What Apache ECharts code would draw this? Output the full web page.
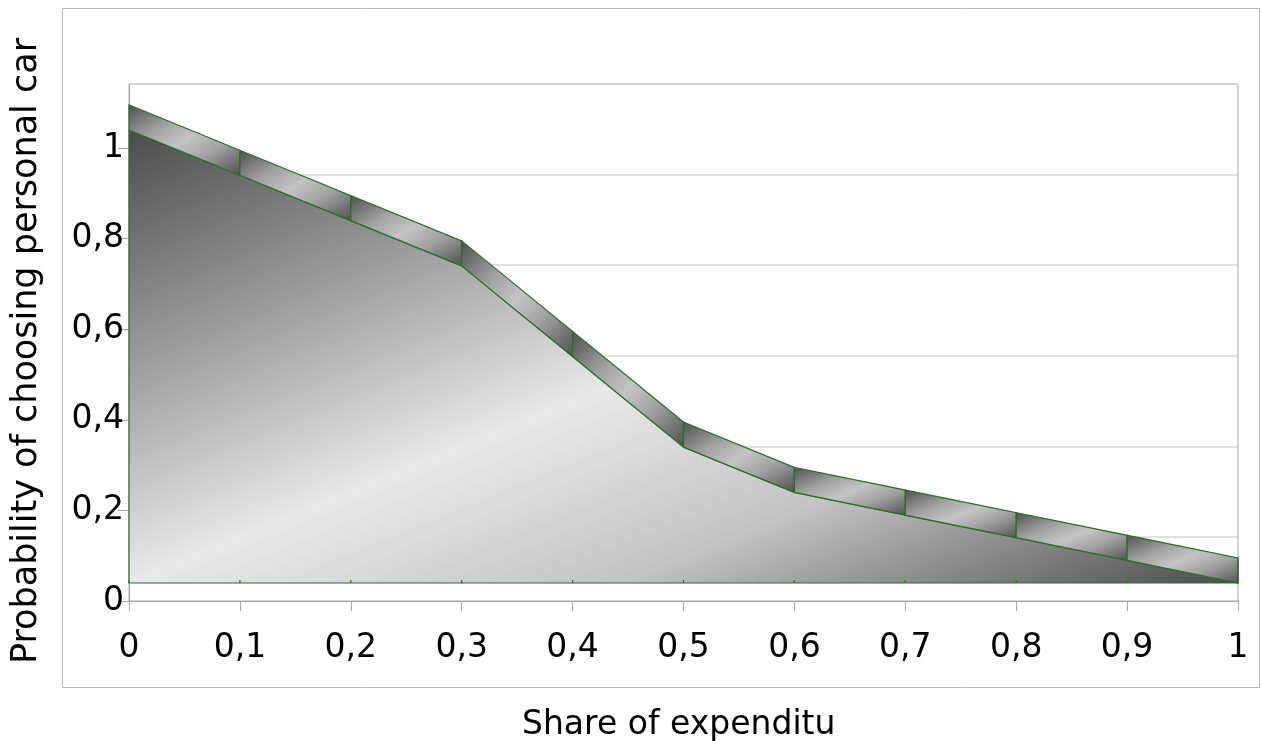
<!DOCTYPE html>
<html>
<head>
<meta charset="utf-8">
<script src="https://cdn.jsdelivr.net/npm/echarts@6/dist/echarts.min.js"></script>
<style>
  html, body { margin: 0; padding: 0; background: #ffffff; }
  #chart { width: 1261px; height: 741px; }
</style>
</head>
<body>
<div id="chart"></div>
<script>
// Probability of choosing a personal car against the share of expenditure
const shares = [0, 0.1, 0.2, 0.3, 0.4, 0.5, 0.6, 0.7, 0.8, 0.9, 1];
const probability = [1.0, 0.9, 0.8, 0.7, 0.5, 0.3, 0.2, 0.15, 0.1, 0.05, 0];

// Axis tick labels
const xTicks = [0, 0.1, 0.2, 0.3, 0.4, 0.5, 0.6, 0.7, 0.8, 0.9, 1];
const yTicks = [0, 0.2, 0.4, 0.6, 0.8, 1];

const xTitle = 'Share of expenditu';
const yTitle = 'Probability of choosing personal car';

// Layout (pixels)
const PLOT_LEFT = 129, PLOT_TOP = 84, PLOT_W = 1109, PLOT_H = 517;
const UNIT_PX = 453;            // pixels per 1.0 of probability
const SERIES_LIFT = 18;         // front face sits this far above the axis baseline
const WALL_LIFT = 64;           // back wall baseline above the axis baseline
const DEPTH_PX = 25;            // vertical offset of the ribbon's back edge

const FONT = '"DejaVu Sans", sans-serif';
const EDGE = '#2c6a2c';
const AXIS_GREY = '#a8a8a8';

const fmt = v => String(Math.round(v * 10) / 10).replace('.', ',');

const points = shares.map((s, i) => [s, probability[i]]);

// Diagonal shading whose bands run parallel to the box's rising diagonal
// (dark at top-left and bottom-right corners, light across the middle).
function diagonalEnd(w, h) {
  const l2 = w * w + h * h;
  return [2 * h * h / l2, 2 * w * w / l2];   // in box-relative units
}
const faceEnd = diagonalEnd(PLOT_W, UNIT_PX);

const chart = echarts.init(document.getElementById('chart'), null, { renderer: 'canvas' });

chart.setOption({
  animation: false,
  backgroundColor: '#ffffff',
  grid: [
    // axes frame
    { left: PLOT_LEFT, top: PLOT_TOP, width: PLOT_W, height: PLOT_H,
      show: true, borderColor: AXIS_GREY, borderWidth: 1, backgroundColor: 'transparent' },
    // back wall with its gridlines
    { left: PLOT_LEFT, top: PLOT_TOP + PLOT_H - WALL_LIFT - UNIT_PX, width: PLOT_W, height: UNIT_PX },
    // plane of the series front face
    { left: PLOT_LEFT, top: PLOT_TOP + PLOT_H - SERIES_LIFT - UNIT_PX, width: PLOT_W, height: UNIT_PX }
  ],
  xAxis: [
    {
      gridIndex: 0, type: 'value', min: 0, max: 1, interval: 0.1,
      axisLine: { show: true, lineStyle: { color: AXIS_GREY, width: 1 } },
      axisTick: { show: true, length: 10, customValues: xTicks, lineStyle: { color: AXIS_GREY } },
      axisLabel: { customValues: xTicks, formatter: fmt, color: '#000', fontSize: 33,
                   fontFamily: FONT, margin: 31 },
      splitLine: { show: false }
    },
    { gridIndex: 1, type: 'value', min: 0, max: 1, show: false },
    { gridIndex: 2, type: 'value', min: 0, max: 1, show: false }
  ],
  yAxis: [
    {
      gridIndex: 0, type: 'value', min: 0, max: PLOT_H / UNIT_PX,
      axisLine: { show: true, lineStyle: { color: AXIS_GREY, width: 1 } },
      axisTick: { show: true, length: 11, customValues: yTicks, lineStyle: { color: AXIS_GREY } },
      axisLabel: { customValues: yTicks, formatter: fmt, color: '#000', fontSize: 33,
                   fontFamily: FONT, margin: 5 },
      splitLine: { show: false }
    },
    {
      gridIndex: 1, type: 'value', min: 0, max: 1, interval: 0.2,
      axisLine: { show: false }, axisTick: { show: false }, axisLabel: { show: false },
      splitLine: { show: true, lineStyle: { color: '#d6d6d6', width: 1.5 } }
    },
    { gridIndex: 2, type: 'value', min: 0, max: 1, show: false }
  ],
  series: [
    {
      // front face of the area
      type: 'line',
      xAxisIndex: 2, yAxisIndex: 2,
      data: points,
      symbol: 'none',
      clip: false,
      z: 3,
      lineStyle: { color: EDGE, width: 1.2 },
      areaStyle: {
        opacity: 1,
        color: new echarts.graphic.LinearGradient(0, 0, faceEnd[0], faceEnd[1], [
          { offset: 0, color: '#4c4c4c' },
          { offset: 0.3, color: '#a9a9a9' },
          { offset: 0.5, color: '#e8e8e8' },
          { offset: 0.72, color: '#c4c4c4' },
          { offset: 1, color: '#4c4c4c' }
        ])
      }
    },
    {
      // top ribbon of the area, segment by segment
      type: 'custom',
      xAxisIndex: 2, yAxisIndex: 2,
      data: points,
      clip: false,
      z: 4,
      renderItem: function (params, api) {
        const i = params.dataIndex;
        const children = [];
        const f0 = api.coord([api.value(0), api.value(1)]);
        const base0 = api.coord([api.value(0), 0]);
        // small notch on the bottom edge
        children.push({
          type: 'line',
          shape: { x1: base0[0], y1: base0[1], x2: base0[0], y2: base0[1] - 3 },
          style: { stroke: EDGE, lineWidth: 1.2 }
        });
        if (i === 0) {
          const end = api.coord([shares[shares.length - 1], 0]);
          children.push({
            type: 'polyline',
            shape: { points: [f0, base0, end] },
            style: { stroke: EDGE, lineWidth: 1.2, fill: null }
          });
        }
        if (i < points.length - 1) {
          const f1 = api.coord(points[i + 1]);
          const b0 = [f0[0], f0[1] - DEPTH_PX];
          const b1 = [f1[0], f1[1] - DEPTH_PX];
          const top = Math.min(b0[1], b1[1]);
          const bottom = Math.max(f0[1], f1[1]);
          const e = diagonalEnd(f1[0] - f0[0], bottom - top);
          children.push({
            type: 'polygon',
            shape: { points: [f0, f1, b1, b0] },
            style: {
              fill: new echarts.graphic.LinearGradient(0, 0, e[0], e[1], [
                { offset: 0, color: '#4f4f4f' },
                { offset: 0.3, color: '#a2a2a2' },
                { offset: 0.5, color: '#c4c4c4' },
                { offset: 0.7, color: '#a2a2a2' },
                { offset: 1, color: '#4f4f4f' }
              ]),
              stroke: EDGE,
              lineWidth: 1.2
            }
          });
        } else {
          children.push({
            type: 'line',
            shape: { x1: f0[0], y1: f0[1], x2: f0[0], y2: f0[1] - DEPTH_PX },
            style: { stroke: EDGE, lineWidth: 1.2 }
          });
        }
        return { type: 'group', children: children };
      }
    }
  ],
  graphic: [
    {
      type: 'rect',
      shape: { x: 62.5, y: 8.5, width: 1197, height: 679 },
      style: { fill: null, stroke: '#b8b8b8', lineWidth: 1 },
      silent: true
    },
    {
      type: 'text',
      x: 522, y: 725,
      style: { text: xTitle, fill: '#000', font: '33px ' + FONT,
               align: 'left', verticalAlign: 'middle' }
    },
    {
      type: 'text',
      x: 27, y: 351,
      rotation: Math.PI / 2,
      style: { text: yTitle, fill: '#000', font: '35px ' + FONT,
               align: 'center', verticalAlign: 'middle' }
    }
  ]
});
</script>
</body>
</html>
